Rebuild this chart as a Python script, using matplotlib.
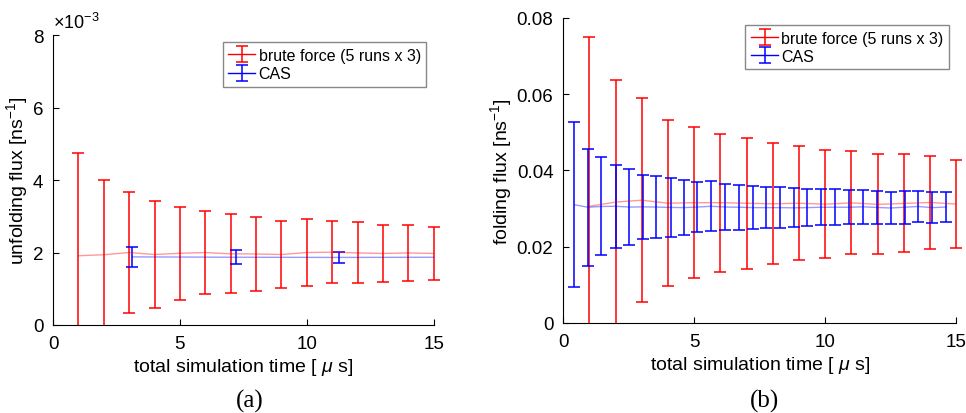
import matplotlib
matplotlib.use("Agg")
import matplotlib.pyplot as plt
from matplotlib.ticker import FuncFormatter
from matplotlib.patches import Rectangle

plt.rcParams['font.family'] = ['Liberation Sans', 'DejaVu Sans']
plt.rcParams['mathtext.fontset'] = 'custom'
plt.rcParams['mathtext.rm'] = 'Liberation Sans'
plt.rcParams['mathtext.it'] = 'Liberation Sans:italic'

# panel (a): unfolding flux, values in units of 1e-3 ns^-1
scale_a = 1e-3
bf_t_a = [1, 2, 3, 4, 5, 6, 7, 8, 9, 10, 11, 12, 13, 14, 15]
bf_mean_a = [1.91, 1.94, 2.00, 1.945, 1.98, 2.00, 1.965, 1.96, 1.945, 2.00, 2.01, 1.99, 1.975, 1.99, 1.975]
bf_err_a = [2.83, 2.05, 1.68, 1.475, 1.28, 1.155, 1.095, 1.01, 0.935, 0.92, 0.86, 0.84, 0.785, 0.77, 0.735]
cas_t_a = [3.12, 7.2, 11.27, 15.33]
cas_mean_a = [1.88, 1.87, 1.865, 1.87]
cas_err_a = [0.285, 0.195, 0.155, 0.13]

# panel (b): folding flux, ns^-1
bf_t_b = [1, 2, 3, 4, 5, 6, 7, 8, 9, 10, 11, 12, 13, 14, 15]
bf_mean_b = [0.0306, 0.0317, 0.0322, 0.0314, 0.03155, 0.03155, 0.0314, 0.03125, 0.0314,
             0.03115, 0.0315, 0.0311, 0.03135, 0.0316, 0.0312]
bf_err_b = [0.0445, 0.0320, 0.0267, 0.0218, 0.01985, 0.01805, 0.0172, 0.01585, 0.0150,
            0.01415, 0.0135, 0.0131, 0.01285, 0.01230, 0.0116]
cas_t_b = [0.43, 0.94, 1.45, 2.0, 2.53, 3.04, 3.56, 4.1, 4.6, 5.11, 5.65, 6.18, 6.7, 7.24,
           7.75, 8.26, 8.79, 9.31, 9.85, 10.38, 10.9, 11.44, 11.97, 12.49, 13.03, 13.54, 14.08, 14.62]
cas_mean_b = [0.0310, 0.03035, 0.03055, 0.0306, 0.0304, 0.03045, 0.0304, 0.0303, 0.03025,
              0.0304, 0.0306, 0.0304, 0.03035, 0.03025, 0.03025, 0.03025, 0.0302, 0.03025,
              0.03035, 0.03035, 0.03035, 0.03045, 0.0303, 0.03015, 0.03035, 0.03055, 0.03025, 0.0304]
cas_err_b = [0.0216, 0.01535, 0.01285, 0.0109, 0.0099, 0.00845, 0.0081, 0.0077, 0.00725,
             0.0066, 0.0066, 0.0061, 0.00595, 0.00555, 0.00545, 0.00545, 0.0051, 0.00485,
             0.00475, 0.00475, 0.00445, 0.00445, 0.0044, 0.00425, 0.00435, 0.00415, 0.00415, 0.0039]

red = '#ff0000'
blue = '#0000ff'


def draw(ax, bt, bm, be, ct, cm, ce):
    # red caps may hang a little past the right edge, still clipped below zero
    clip = Rectangle((-0.02, 0), 1.04, 1.0, transform=ax.transAxes)
    conts = []
    for t, m, e, c, lab in [(bt, bm, be, red, 'brute force (5 runs x 3)'),
                            (ct, cm, ce, blue, 'CAS')]:
        cont = ax.errorbar(t, m, yerr=e, color=c, lw=1.0, elinewidth=1.1, capsize=4,
                           capthick=1.1, label=lab)
        conts.append(cont)
    for cap in conts[0].lines[1]:
        cap.set_clip_path(clip)
    for bar in conts[0].lines[2]:
        bar.set_clip_path(clip)
    ax.set_xlim(0, 15)
    ax.set_xticks([0, 5, 10, 15])
    ax.spines['top'].set_visible(False)
    ax.spines['right'].set_visible(False)
    ax.tick_params(direction='in', labelsize=13.5, length=4, pad=7)
    ax.set_xlabel(r'total simulation time [ $\mu$ s]', fontsize=14, labelpad=3)
    leg = ax.legend(loc='upper right', fontsize=11.5, fancybox=False, framealpha=1,
                    edgecolor='#888888', borderaxespad=0.45, handlelength=1.7,
                    handletextpad=0.2, borderpad=0.35, labelspacing=0.2)
    leg.get_frame().set_linewidth(1.0)
    # fade the mean lines only after the legend copied the full colour
    for cont in conts:
        cont.lines[0].set_alpha(0.4)


fig = plt.figure(figsize=(9.66, 4.14), dpi=100)
ax1 = fig.add_axes([0.0549, 0.2126, 0.394, 0.700])
ax2 = fig.add_axes([0.583, 0.2174, 0.407, 0.737])

draw(ax1, bf_t_a, [v * scale_a for v in bf_mean_a], [v * scale_a for v in bf_err_a],
     cas_t_a, [v * scale_a for v in cas_mean_a], [v * scale_a for v in cas_err_a])
ax1.set_ylim(0, 8e-3)
ax1.set_yticks([0, 2e-3, 4e-3, 6e-3, 8e-3])
ax1.yaxis.set_major_formatter(FuncFormatter(lambda v, p: f'{v / scale_a:g}'))
ax1.set_ylabel(r'unfolding flux [ns$^{\mathregular{-1}}$]', fontsize=14, labelpad=2)
ax1.text(0.0, 1.01, r'$\times$10$^{\mathregular{-3}}$', transform=ax1.transAxes,
         fontsize=13, ha='left', va='bottom')

draw(ax2, bf_t_b, bf_mean_b, bf_err_b, cas_t_b, cas_mean_b, cas_err_b)
ax2.set_ylim(0, 0.08)
ax2.set_yticks([0, 0.02, 0.04, 0.06, 0.08])
ax2.yaxis.set_major_formatter(FuncFormatter(lambda v, p: '0' if v == 0 else f'{v:.2f}'))
ax2.set_ylabel(r'folding flux [ns$^{\mathregular{-1}}$]', fontsize=14, labelpad=2)

fig.text(0.259, 0.015, '(a)', fontsize=18, family='Liberation Serif', ha='center')
fig.text(0.791, 0.015, '(b)', fontsize=18, family='Liberation Serif', ha='center')

fig.savefig('out.png', dpi=100)
